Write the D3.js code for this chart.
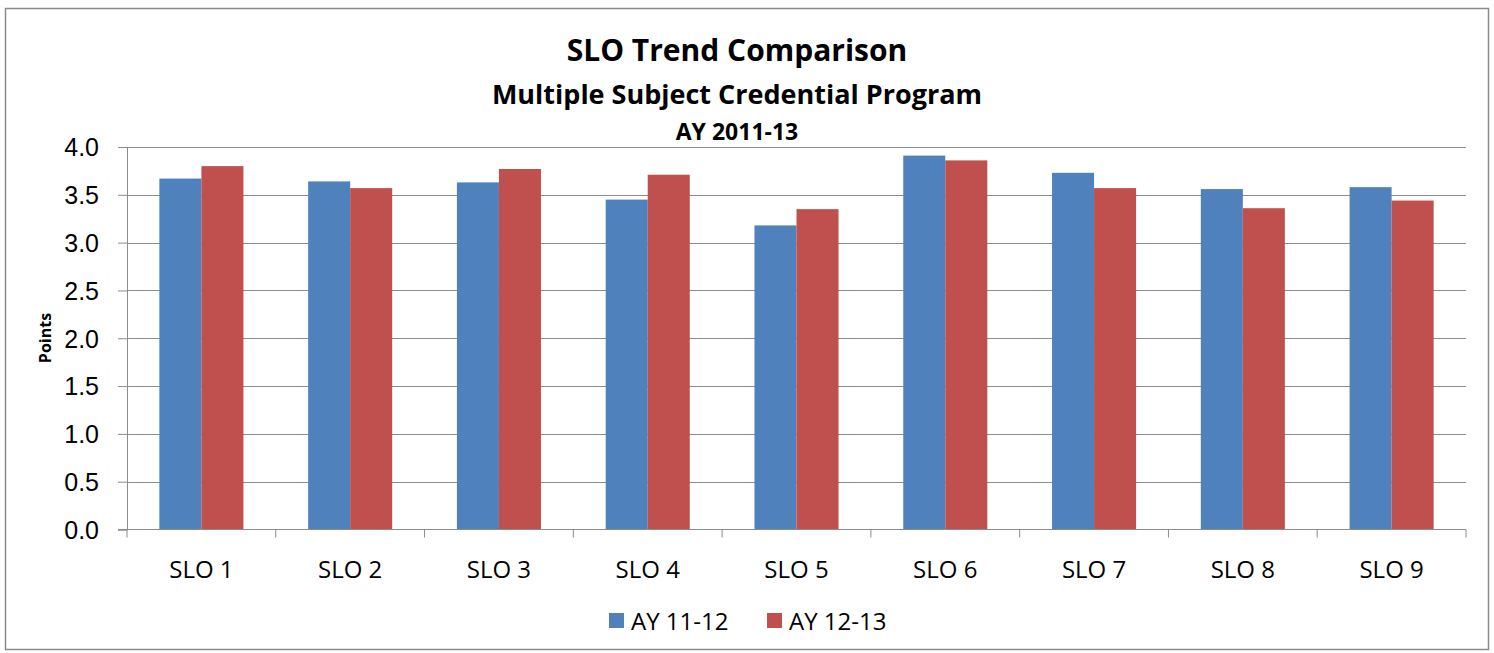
<!DOCTYPE html>
<html>
<head>
<meta charset="utf-8">
<script src="https://cdn.jsdelivr.net/npm/d3@7"></script>
<style>
  body { margin: 0; background: #fff; }
  svg { font-family: "Open Sans", Lato, sans-serif; }
  .grid line { stroke: #8c8c8c; stroke-width: 1; }
  .tick text { fill: #000; }
</style>
</head>
<body>
<svg id="chart"></svg>
<script>
// chart values
var categories = ["SLO 1","SLO 2","SLO 3","SLO 4","SLO 5","SLO 6","SLO 7","SLO 8","SLO 9"];
var seriesNames = ["AY 11-12","AY 12-13"];
var ay1112 = [3.67, 3.64, 3.63, 3.45, 3.18, 3.91, 3.73, 3.56, 3.58];
var ay1213 = [3.80, 3.57, 3.77, 3.71, 3.35, 3.86, 3.57, 3.36, 3.44];
var yTicks = [0, 0.5, 1, 1.5, 2, 2.5, 3, 3.5, 4];
var colors = ["#4f81bd", "#c0504d"];

var W = 1494, H = 653;
var pLeft = 127, pRight = 1466, pTop = 147, pBottom = 529.5;

var svg = d3.select("#chart").attr("width", W).attr("height", H);

// outer frame
svg.append("rect").attr("x", 5.5).attr("y", 8.5).attr("width", 1483).attr("height", 641)
  .attr("fill", "#fff").attr("stroke", "#8a8a8a").attr("stroke-width", 1.5);

var x = d3.scaleBand().domain(categories).range([pLeft, pRight]).paddingInner(0.435).paddingOuter(0.2175);
var xs = d3.scaleBand().domain(seriesNames).range([0, x.bandwidth()]);
var y = d3.scaleLinear().domain([0, 4]).range([pBottom, pTop]);

// gridlines
svg.append("g").attr("class", "grid")
  .selectAll("line").data(yTicks.slice(1)).join("line")
  .attr("x1", pLeft).attr("x2", pRight)
  .attr("y1", function(d){return Math.round(y(d))+0.5;})
  .attr("y2", function(d){return Math.round(y(d))+0.5;});

// bars
var data = categories.map(function(c, i){ return {cat: c, vals: [ay1112[i], ay1213[i]]}; });
var groups = svg.append("g").selectAll("g").data(data).join("g")
  .attr("transform", function(d){ return "translate(" + x(d.cat) + ",0)"; });
groups.selectAll("rect").data(function(d){ return d.vals.map(function(v, j){ return {v: v, s: seriesNames[j], j: j}; }); })
  .join("rect")
  .attr("x", function(d){ return xs(d.s); })
  .attr("width", xs.bandwidth())
  .attr("y", function(d){ return y(d.v); })
  .attr("height", function(d){ return y(0) - y(d.v); })
  .attr("fill", function(d){ return colors[d.j]; });

// y axis
var yAxis = svg.append("g").attr("transform", "translate(" + pLeft + ",0)")
  .call(d3.axisLeft(y).tickValues(yTicks).tickFormat(d3.format(".1f")).tickSize(9).tickPadding(19));
yAxis.select(".domain").attr("stroke", "#8c8c8c");
yAxis.selectAll(".tick line").attr("stroke", "#8c8c8c");
yAxis.selectAll(".tick text").style("font-size", "25px").attr("dy", "0.35em");

// x axis with ticks at category boundaries
svg.append("line").attr("x1", pLeft - 9).attr("x2", pRight).attr("y1", pBottom).attr("y2", pBottom)
  .attr("stroke", "#8c8c8c");
var step = x.step();
var bounds = d3.range(categories.length + 1);
svg.append("g").selectAll("line").data(bounds).join("line")
  .attr("x1", function(d){ return pLeft + d*step; }).attr("x2", function(d){ return pLeft + d*step; })
  .attr("y1", pBottom).attr("y2", pBottom + 8).attr("stroke", "#8c8c8c");
svg.append("g").selectAll("text").data(categories).join("text")
  .attr("x", function(d){ return x(d) + x.bandwidth()/2; })
  .attr("y", 578)
  .attr("text-anchor", "middle")
  .style("font-size", "24px")
  .text(function(d){ return d; });

// y label
svg.append("text").attr("transform", "translate(51,338) rotate(-90)")
  .attr("text-anchor", "middle").style("font-size", "16px").style("font-weight", "bold")
  .text("Points");

// titles
svg.append("text").attr("x", 737).attr("y", 61).attr("text-anchor", "middle")
  .style("font-size", "30px").style("font-weight", "bold").text("SLO Trend Comparison");
svg.append("text").attr("x", 737).attr("y", 104).attr("text-anchor", "middle")
  .style("font-size", "27px").style("font-weight", "bold").text("Multiple Subject Credential Program");
svg.append("text").attr("x", 737).attr("y", 140).attr("text-anchor", "middle")
  .style("font-size", "23px").style("font-weight", "bold").text("AY 2011-13");

// legend
var legendX = [609, 767];
var legend = svg.append("g").selectAll("g").data(seriesNames).join("g")
  .attr("transform", function(d, i){ return "translate(" + legendX[i] + ",613)"; });
legend.append("rect").attr("width", 15).attr("height", 15)
  .attr("fill", function(d, i){ return colors[i]; });
legend.append("text").attr("x", 22).attr("y", 17).style("font-size", "24px")
  .text(function(d){ return d; });
</script>
</body>
</html>
